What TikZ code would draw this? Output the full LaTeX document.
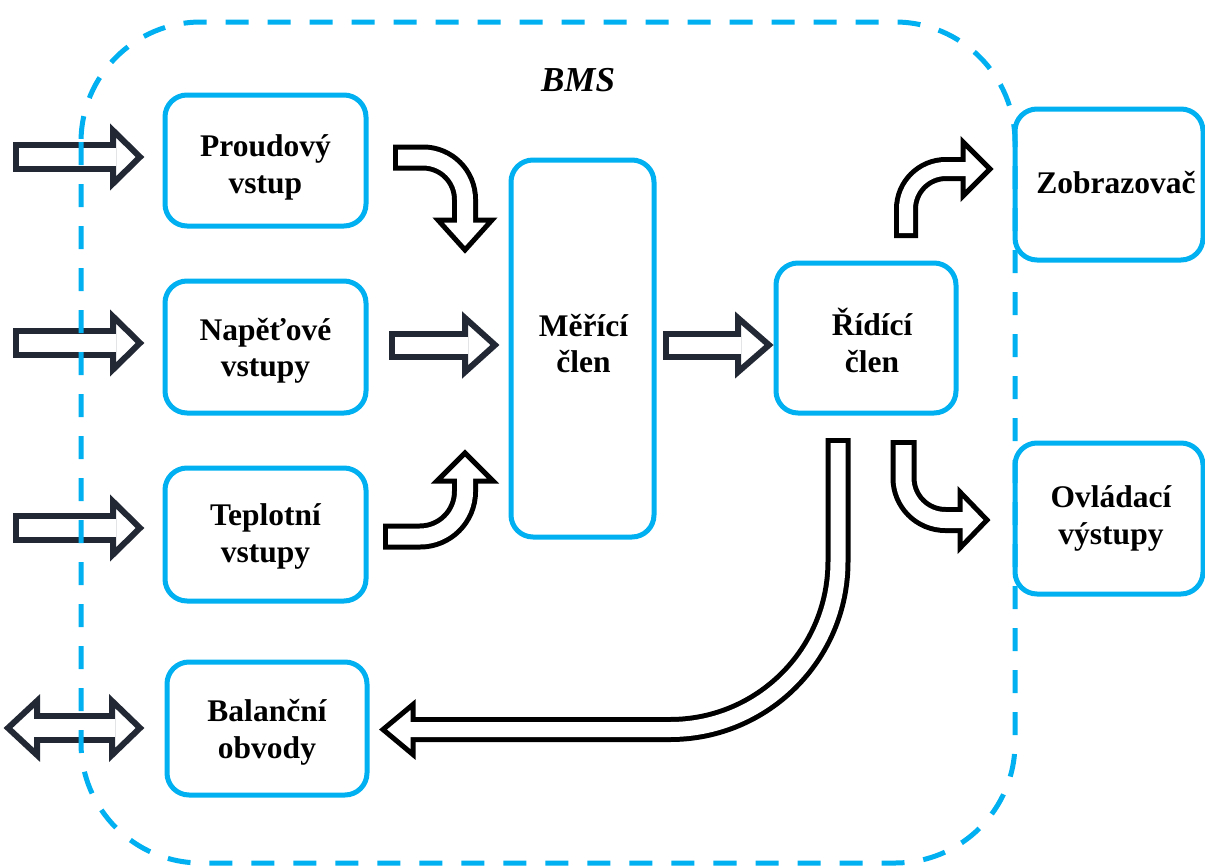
\documentclass[tikz,border=0pt]{standalone}
\usepackage{fontspec}
\setmainfont{Liberation Serif}
\usetikzlibrary{calc}
\definecolor{bmsblue}{HTML}{00B0F0}
\definecolor{darkarrow}{HTML}{232934}
% arrow head: colour, stroke, base, tip, half width
\newcommand{\arrowhead}[5]{\draw[#1,line width=#2,fill=white,line join=miter,miter limit=10]
  ($(#3)!#5!90:(#4)$) -- (#4) -- ($(#3)!#5!-90:(#4)$) -- cycle;}
% block arrow: 1 colour, 2 stroke, 3 outer width, 4 inner width, 5 head half width,
% 6 path up to base, 7 base, 8 tip, 9 corner radius
\newcommand{\blockarrow}[9]{%
  \draw[#1,line width=#3,rounded corners=#9] #6 (#7);
  \arrowhead{#1}{#2}{#7}{#8}{#5}
  \draw[white,line width=#4,rounded corners=#9,shorten <=#2] #6 ($(#7)!3pt!(#8)$);
}
\begin{document}
\begin{tikzpicture}[x=1pt,y=-1pt,
  box/.style={draw=bmsblue,line width=5pt,rounded corners=22pt,inner sep=0pt},
  lbl/.style={align=center,font=\bfseries\fontsize{31.5pt}{36.5pt}\selectfont,inner sep=0pt}]
\useasboundingbox (0,0) rectangle (1205,865);

% boxes
\node[box,minimum width=201pt,minimum height=131pt] (prou) at (265.5,160.5) {};
\node[box,minimum width=201pt,minimum height=132pt] (nap) at (265.5,347) {};
\node[box,minimum width=201pt,minimum height=133pt] (tep) at (265.5,534.5) {};
\node[box,minimum width=200pt,minimum height=133pt] (bal) at (267,728.5) {};
\node[box,minimum width=143pt,minimum height=377pt] (mer) at (582.5,348.5) {};
\node[box,minimum width=180pt,minimum height=150pt] (rid) at (866,338) {};
\node[box,minimum width=188pt,minimum height=151pt] (zob) at (1109,184.5) {};
\node[box,minimum width=188pt,minimum height=151pt] (ovl) at (1109,518.5) {};
% texts
\node[lbl] (prouT) at ($(prou.center)+(0,7)$) {Proudový\\vstup};
\node[lbl] (napT) at ($(nap.center)+(0,4)$) {Napěťové\\vstupy};
\node[lbl] (tepT) at ($(tep.center)+(0,2)$) {Teplotní\\vstupy};
\node[lbl] (balT) at ($(bal.center)+(0,4)$) {Balanční\\obvody};
\node[lbl] (merT) at ($(mer.center)+(1,-5)$) {Měřící\\člen};
\node[lbl] (ridT) at ($(rid.center)+(6,2.5)$) {Řídící\\člen};
\node[lbl] (zobT) at ($(zob.center)+(7,-2)$) {Zobrazovač};
\node[lbl] (ovlT) at ($(ovl.center)+(2,0)$) {Ovládací\\výstupy};
\node[font=\bfseries\itshape\fontsize{35pt}{40pt}\selectfont] (bms) at (578,80) {BMS};

% coordinates of the block arrows
\coordinate (i1t) at (13,157);  \coordinate (i1b) at (113,157);  \coordinate (i1h) at (140,157);
\coordinate (i2t) at (13,343);  \coordinate (i2b) at (113,343);  \coordinate (i2h) at (140,343);
\coordinate (i3t) at (13,528);  \coordinate (i3b) at (113,528);  \coordinate (i3h) at (140,528);
\coordinate (dbl) at (37,728);  \coordinate (dbr) at (112,728);
\coordinate (dtl) at (8,728);   \coordinate (dtr) at (140,728);

\coordinate (a1t) at (393,157.5); \coordinate (a1c) at (465,157.5); \coordinate (a1b) at (465,220); \coordinate (a1h) at (465,250);
\coordinate (a2t) at (389,345);   \coordinate (a2b) at (465,345);   \coordinate (a2h) at (495,345);
\coordinate (a3t) at (383,536.5); \coordinate (a3c) at (465,536.5); \coordinate (a3b) at (465,481); \coordinate (a3h) at (465,453);
\coordinate (a4t) at (663,345);   \coordinate (a4b) at (738,345);   \coordinate (a4h) at (769,345);
\coordinate (a5t) at (906,238);   \coordinate (a5c) at (906,169);   \coordinate (a5b) at (963,169);   \coordinate (a5h) at (990,169);
\coordinate (a6t) at (903.5,440); \coordinate (a6c) at (903.5,520); \coordinate (a6b) at (960,520);   \coordinate (a6h) at (987,520);
\coordinate (a7t) at (838,438);   \coordinate (a7c) at (838,729.5); \coordinate (a7b) at (413,729.5); \coordinate (a7h) at (383,729.5);

% input arrows
\blockarrow{darkarrow}{6pt}{30pt}{18pt}{26.5pt}{(i1t) --}{i1b}{i1h}{1pt}
\blockarrow{darkarrow}{6pt}{30pt}{18pt}{26.5pt}{(i2t) --}{i2b}{i2h}{1pt}
\blockarrow{darkarrow}{6pt}{30pt}{18pt}{26.5pt}{(i3t) --}{i3b}{i3h}{1pt}
% double arrow at balancing circuits
\draw[darkarrow,line width=30pt] (dbl) -- (dbr);
\arrowhead{darkarrow}{6pt}{dbl}{dtl}{27pt}
\arrowhead{darkarrow}{6pt}{dbr}{dtr}{27pt}
\draw[white,line width=18pt] ($(dbl)!3pt!(dtl)$) -- ($(dbr)!3pt!(dtr)$);

% dashed BMS outline
\draw[bmsblue,line width=5pt,dash pattern=on 23pt off 19pt,rounded corners=120pt]
  (81,22) rectangle (1015,863);

% inner arrows
\blockarrow{black}{5pt}{26pt}{16pt}{27pt}{(a1t) -- (a1c) --}{a1b}{a1h}{42pt}
\blockarrow{darkarrow}{6pt}{29pt}{17pt}{27pt}{(a2t) --}{a2b}{a2h}{1pt}
\blockarrow{black}{5pt}{26pt}{16pt}{28pt}{(a3t) -- (a3c) --}{a3b}{a3h}{45pt}
\blockarrow{darkarrow}{6pt}{29pt}{17pt}{27pt}{(a4t) --}{a4b}{a4h}{1pt}
\blockarrow{black}{5pt}{24pt}{14pt}{27pt}{(a5t) -- (a5c) --}{a5b}{a5h}{40pt}
\blockarrow{black}{5pt}{26pt}{16pt}{28pt}{(a6t) -- (a6c) --}{a6b}{a6h}{42pt}
\blockarrow{black}{5pt}{25pt}{15pt}{25pt}{(a7t) -- (a7c) --}{a7b}{a7h}{168pt}
\end{tikzpicture}
\end{document}
